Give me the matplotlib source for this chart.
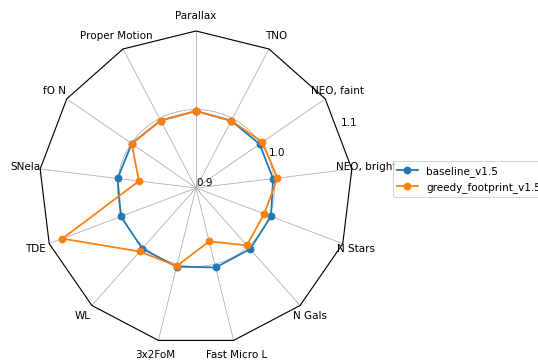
import matplotlib
matplotlib.use("Agg")
import matplotlib.pyplot as plt
import numpy as np
from matplotlib.patches import RegularPolygon
from matplotlib.path import Path
from matplotlib.projections import register_projection
from matplotlib.projections.polar import PolarAxes
from matplotlib.spines import Spine
from matplotlib.transforms import Affine2D

# metric names, counter-clockwise from the top
labels = ["Parallax", "Proper Motion", "fO N", "SNeIa", "TDE", "WL", "3x2FoM",
          "Fast Micro L", "N Gals", "N Stars", "NEO, bright", "NEO, faint", "TNO"]
baseline = [0.998, 0.997, 0.9995, 1.0006, 1.0024, 1.0032, 1.0032,
            1.0043, 1.004, 1.0022, 0.9989, 0.9985, 0.9967]
greedy = [0.998, 0.997, 0.9995, 0.9732, 1.082, 1.0081, 1.0024,
          0.9701, 0.9976, 0.9929, 1.0045, 1.0029, 0.9967]
rticks = [0.9, 1.0, 1.1]

N = len(labels)


class RadarAxes(PolarAxes):
    name = "radar13"

    def __init__(self, *args, **kwargs):
        super().__init__(*args, **kwargs)
        self.set_theta_zero_location("N")

    def _gen_axes_patch(self):
        return RegularPolygon((0.5, 0.5), N, radius=0.5, edgecolor="k")

    def _gen_axes_spines(self):
        spine = Spine(axes=self, spine_type="circle",
                      path=Path.unit_regular_polygon(N))
        spine.set_transform(Affine2D().scale(0.5).translate(0.5, 0.5) + self.transAxes)
        return {"polar": spine}


register_projection(RadarAxes)

dpi = 75
fig = plt.figure(figsize=(538 / dpi, 362 / dpi), dpi=dpi)
ax = fig.add_axes([0.0725, 0.047, 0.5836, 0.8674], projection="radar13")

theta = np.linspace(0, 2 * np.pi, N, endpoint=False)
th = np.append(theta, theta[0])

ax.plot(th, baseline + baseline[:1], "-o", color="C0", lw=1.7, ms=6.5,
        label="baseline_v1.5")
ax.plot(th, greedy + greedy[:1], "-o", color="C1", lw=1.7, ms=6.5,
        label="greedy_footprint_v1.5")

ax.set_thetagrids(np.degrees(theta), labels)
ax.set_rgrids(rticks)
ax.set_ylim(0.9, 1.1)
ax.set_rlabel_position(292.5)
ax.spines["polar"].set_linewidth(1.1)

ax.legend(loc="upper left", bbox_to_anchor=(0.730, 0.554),
          bbox_transform=fig.transFigure, borderaxespad=0)

fig.savefig("out.png", dpi=dpi)
